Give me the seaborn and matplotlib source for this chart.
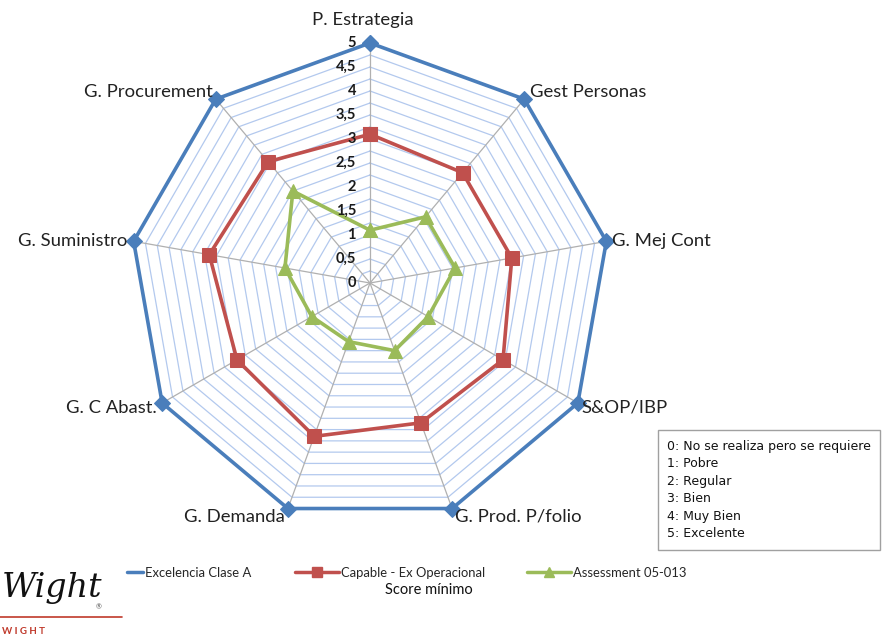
import numpy as np
import pandas as pd
import matplotlib
matplotlib.use("Agg")
import matplotlib.pyplot as plt
from matplotlib.lines import Line2D
import seaborn as sns

categories = ["P. Estrategia", "Gest Personas", "G. Mej Cont", "S&OP/IBP",
              "G. Prod. P/folio", "G. Demanda", "G. C Abast.", "G. Suministro",
              "G. Procurement"]
excelencia = [5, 5, 5, 5, 5, 5, 5, 5, 5]
capable = [3.1, 3.0, 3.0, 3.2, 3.1, 3.4, 3.2, 3.4, 3.3]
assessment = [1.1, 1.8, 1.8, 1.4, 1.5, 1.3, 1.4, 1.8, 2.5]
series_names = ["Excelencia Clase A", "Capable - Ex Operacional", "Assessment 05-013"]
radial_ticks = [0, 0.5, 1, 1.5, 2, 2.5, 3, 3.5, 4, 4.5, 5]
radial_labels = ["0", "0,5", "1", "1,5", "2", "2,5", "3", "3,5", "4", "4,5", "5"]
scale_notes = ["0: No se realiza pero se requiere", "1: Pobre", "2: Regular",
               "3: Bien", "4: Muy Bien", "5: Excelente"]

colors = {"Excelencia Clase A": "#4a7ebb",
          "Capable - Ex Operacional": "#c0504d",
          "Assessment 05-013": "#9bbb59"}
markers = {"Excelencia Clase A": "D",
           "Capable - Ex Operacional": "s",
           "Assessment 05-013": "^"}
msizes = {"Excelencia Clase A": 8,
          "Capable - Ex Operacional": 10,
          "Assessment 05-013": 10}

sns.set_theme(style="white")
plt.rcParams["font.family"] = ["Lato", "DejaVu Sans"]

n = len(categories)
theta = np.arange(n) * 2 * np.pi / n
theta_closed = np.append(theta, 2 * np.pi)

rows = []
for name, vals in zip(series_names, [excelencia, capable, assessment]):
    closed = list(vals) + [vals[0]]
    for t, v in zip(theta_closed, closed):
        rows.append({"series": name, "theta": t, "value": v})
df = pd.DataFrame(rows)

W, H = 885, 638
fig = plt.figure(figsize=(W / 100, H / 100), dpi=100)
cx, cy, R = 370, 283, 240
ax = fig.add_axes([(cx - R) / W, (H - cy - R) / H, 2 * R / W, 2 * R / H],
                  projection="polar")
ax.set_theta_zero_location("N")
ax.set_theta_direction(-1)
ax.set_ylim(0, 5)
ax.grid(False)
ax.spines["polar"].set_visible(False)
ax.set_xticks([])
ax.set_yticks([])
ax.set_facecolor("none")

# polygonal web every 0.25
for r in np.arange(0.25, 5.01, 0.25):
    ax.plot(theta_closed, [r] * len(theta_closed), color="#b3c9ee", lw=0.9, zorder=1)
# spokes
for t in theta:
    ax.plot([t, t], [0, 5], color="#b0b0b0", lw=0.9, zorder=1.5)

for name in series_names:
    sub = df[df["series"] == name]
    sns.lineplot(data=sub, x="theta", y="value", sort=False, estimator=None,
                 color=colors[name], marker=markers[name], markersize=msizes[name],
                 lw=2.6, ax=ax, legend=False, zorder=3)
for line in ax.lines[-3:]:
    line.set_markeredgecolor(line.get_color())
    line.set_clip_on(False)
ax.set_xlabel("")
ax.set_ylabel("")

# radial value labels
for v, lab in zip(radial_ticks, radial_labels):
    ax.annotate(lab, xy=(0, v), xytext=(-14, 0), textcoords="offset pixels",
                ha="right", va="center", fontsize=10.5, fontweight="bold",
                color="#1a1a1a", zorder=4)

# category labels
offsets = [(-7, 23, "center"), (6, 7, "left"), (6, 0, "left"), (4, -5, "left"),
           (3, -8, "left"), (-3, -8, "right"), (-5, -5, "right"), (-6, 0, "right"),
           (-3, 7, "right")]
for t, lab, (dx, dy, ha) in zip(theta, categories, offsets):
    ax.annotate(lab, xy=(t, 5), xytext=(dx, dy), textcoords="offset pixels",
                ha=ha, va="center", fontsize=13.3, color="#222222",
                annotation_clip=False)

# legend, one entry per series
handles = [Line2D([], [], color=colors[series_names[0]], lw=2.5),
           Line2D([], [], color=colors[series_names[1]], lw=2.5, marker="s",
                  markersize=7, mec=colors[series_names[1]]),
           Line2D([], [], color=colors[series_names[2]], lw=2.5, marker="^",
                  markersize=7, mec=colors[series_names[2]])]
leg_x = [127, 295, 527]
leg_len = [1.2, 3.4, 3.4]
for h, name, x0, hl in zip(handles, series_names, leg_x, leg_len):
    fig.legend([h], [name], loc="center left",
               bbox_to_anchor=(x0 / W, 1 - 573 / H), frameon=False,
               handlelength=hl, handletextpad=0.15, borderpad=0, borderaxespad=0,
               prop={"family": ["Lato", "DejaVu Sans"], "size": 9.4})
fig.text(385 / W, 1 - 590 / H, "Score mínimo", ha="left", va="center",
         fontsize=10.5, color="#111111")

# scale description box
fig.text(667 / W, 1 - 490 / H, "\n".join(scale_notes), ha="left", va="center",
         fontsize=9, family="DejaVu Sans", color="#111111", linespacing=1.45,
         bbox=dict(boxstyle="square,pad=0.75", fc="white", ec="#a0a0a0", lw=1))

# logo
fig.text(2 / W, 1 - 588 / H, "Wight", fontsize=24, fontstyle="italic",
         family="DejaVu Serif", color="#111111", ha="left", va="center")
fig.text(96 / W, 1 - 607 / H, "®", fontsize=5, color="#555555", ha="left", va="center")
fig.add_artist(Line2D([0, 122 / W], [1 - 617 / H] * 2, color="#c0392b", lw=1.2,
                      transform=fig.transFigure))
fig.text(2 / W, 1 - 631 / H, "W I G H T", fontsize=7, fontweight="bold",
         color="#c0392b", ha="left", va="center")

fig.savefig("out.png", dpi=100)
